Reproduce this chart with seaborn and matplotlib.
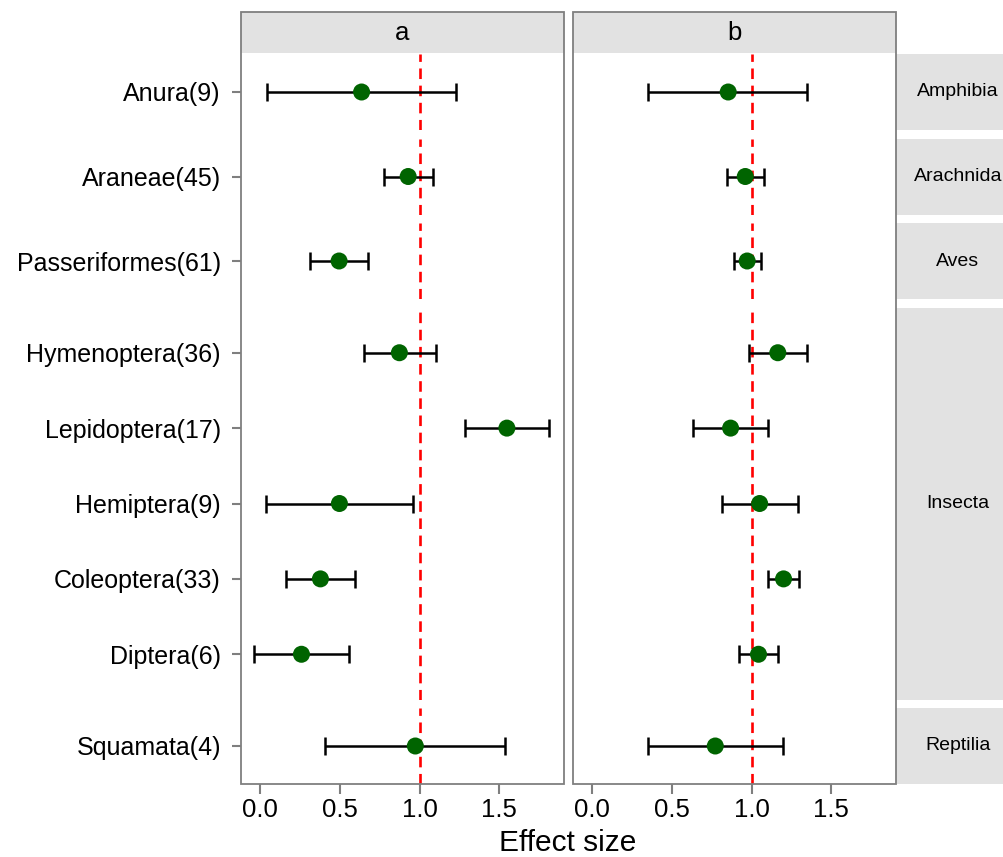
import pandas as pd
import matplotlib
matplotlib.use("Agg")
import matplotlib.pyplot as plt
import seaborn as sns
from matplotlib.patches import Rectangle

# data: order, class, effect size and CI, panel a and panel b
orders = ["Anura(9)", "Araneae(45)", "Passeriformes(61)", "Hymenoptera(36)",
          "Lepidoptera(17)", "Hemiptera(9)", "Coleoptera(33)", "Diptera(6)",
          "Squamata(4)"]
classes = ["Amphibia", "Arachnida", "Aves", "Insecta", "Insecta", "Insecta",
           "Insecta", "Insecta", "Reptilia"]
class_order = ["Amphibia", "Arachnida", "Aves", "Insecta", "Reptilia"]

est_a = [0.636, 0.928, 0.495, 0.873, 1.547, 0.497, 0.378, 0.259, 0.973]
low_a = [0.043, 0.777, 0.313, 0.648, 1.283, 0.038, 0.159, -0.038, 0.404]
high_a = [1.226, 1.085, 0.677, 1.101, 1.812, 0.959, 0.594, 0.554, 1.538]

est_b = [0.853, 0.960, 0.972, 1.164, 0.868, 1.050, 1.200, 1.043, 0.772]
low_b = [0.351, 0.847, 0.887, 0.985, 0.632, 0.813, 1.105, 0.922, 0.350]
high_b = [1.350, 1.075, 1.058, 1.348, 1.100, 1.290, 1.298, 1.164, 1.198]

panels = ["a", "b"]

df = pd.concat([
    pd.DataFrame({"order": orders, "cls": classes, "panel": "a",
                  "est": est_a, "low": low_a, "high": high_a}),
    pd.DataFrame({"order": orders, "cls": classes, "panel": "b",
                  "est": est_b, "low": low_b, "high": high_b}),
], ignore_index=True)

sns.set_theme(style="white")
plt.rcParams["font.family"] = ["Liberation Sans", "DejaVu Sans"]

W, H = 1004, 857
fig = plt.figure(figsize=(W / 100, H / 100), dpi=100)


def fx(x):
    return x / W


def fy(y):
    return 1 - y / H


# layout in pixels
col_x = {"a": (241, 564), "b": (573, 896)}
strip_top, strip_bot = 12, 53
row_heights = [76, 76, 76, 392, 76]
gap = 8.5
row_y = []
y0 = 54
for h in row_heights:
    row_y.append((y0, y0 + h))
    y0 += h + gap
bottom = row_y[-1][1]

grey = "#7F7F7F"
strip_col = "#E2E2E2"
xlim = (-0.12, 1.905)

for p in panels:
    x0, x1 = col_x[p]
    # top strip
    fig.add_artist(Rectangle((fx(x0), fy(strip_bot)), fx(x1 - x0), (strip_bot - strip_top) / H,
                             transform=fig.transFigure, facecolor=strip_col, edgecolor="none"))
    fig.text(fx((x0 + x1) / 2), fy((strip_top + strip_bot) / 2 + 1), p, ha="center", va="center",
             fontsize=18.5, color="black")
    for i, c in enumerate(class_order):
        ya, yb = row_y[i]
        ax = fig.add_axes([fx(x0), fy(yb), fx(x1 - x0), (yb - ya) / H])
        ax.patch.set_alpha(0)
        sub = df[(df["panel"] == p) & (df["cls"] == c)].reset_index(drop=True)
        sub["pos"] = range(len(sub))
        n = len(sub)
        pad = 0.5 if n == 1 else 0.6
        ax.axvline(1.0, color="red", ls=(0, (4, 2.5)), lw=1.9, zorder=1)
        ax.errorbar(sub["est"], sub["pos"],
                    xerr=[sub["est"] - sub["low"], sub["high"] - sub["est"]],
                    fmt="none", ecolor="black", elinewidth=1.8, capsize=6.5, capthick=1.8,
                    zorder=2)
        sns.scatterplot(data=sub, x="est", y="pos", color="#006400", s=150,
                        edgecolor="none", ax=ax, zorder=3, legend=False)
        ax.set_xlim(*xlim)
        ax.set_ylim(n - 1 + pad, -pad)
        for s in ax.spines.values():
            s.set_visible(False)
        ax.set_xlabel("")
        ax.set_ylabel("")
        ax.set_xticks([0.0, 0.5, 1.0, 1.5])
        ax.tick_params(axis="x", length=7, width=1.5, color=grey, labelsize=18.5,
                       labelcolor="black", pad=3)
        ax.tick_params(axis="y", length=6.5, width=1.5, color=grey, labelsize=18,
                       labelcolor="black", pad=8)
        if i == len(class_order) - 1:
            ax.tick_params(axis="x", bottom=True, labelbottom=True)
            ax.set_xticklabels(["0.0", "0.5", "1.0", "1.5"])
        else:
            ax.tick_params(axis="x", bottom=False, labelbottom=False)
        if p == "a":
            ax.set_yticks(sub["pos"])
            ax.set_yticklabels(sub["order"])
            ax.tick_params(axis="y", left=True, labelleft=True)
        else:
            ax.set_yticks([])
        # right strips
        if p == "b":
            fig.add_artist(Rectangle((fx(896), fy(yb)), fx(W - 896 + 5), (yb - ya) / H,
                                     transform=fig.transFigure, facecolor=strip_col,
                                     edgecolor="none"))
            fig.text(fx(958), fy((ya + yb) / 2), c, ha="center", va="center",
                     fontsize=14, color="black")
    # panel border
    fig.add_artist(Rectangle((fx(x0), fy(bottom)), fx(x1 - x0), (bottom - strip_top) / H,
                             transform=fig.transFigure, facecolor="none", edgecolor=grey,
                             lw=1.3))

fig.text(fx(568), fy(843), "Effect size", ha="center", va="center", fontsize=21.5, color="black")

fig.savefig("out.png", dpi=100)
